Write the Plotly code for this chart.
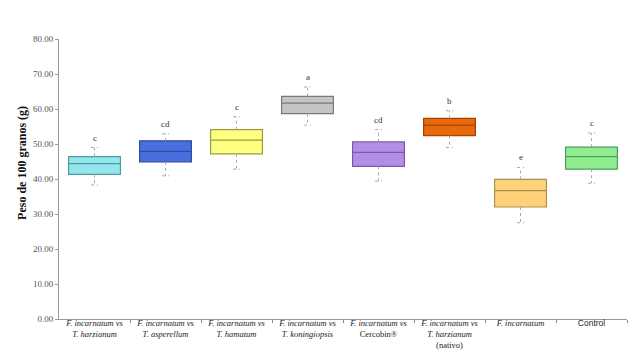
import plotly.graph_objects as go

categories = [
    "<i>F. incarnatum vs</i><br><i>T. harzianum</i>",
    "<i>F. incarnatum vs</i><br><i>T. asperellum</i>",
    "<i>F. incarnatum vs</i><br><i>T. hamatum</i>",
    "<i>F. incarnatum vs</i><br><i>T. koningiopsis</i>",
    "<i>F. incarnatum vs</i><br>Cercobin®",
    "<i>F. incarnatum vs</i><br><i>T. harzianum</i><br>(nativo)",
    "<i>F. incarnatum</i>",
    "<span style=\"font-family:'Liberation Sans'\">Control</span>",
]
q1 = [41.3, 44.9, 47.2, 58.7, 43.6, 52.4, 32.0, 42.8]
median = [44.4, 47.9, 51.1, 61.7, 47.6, 55.4, 36.7, 46.4]
q3 = [46.4, 50.9, 54.1, 63.6, 50.6, 57.3, 39.9, 49.1]
lower = [38.3, 40.9, 42.8, 55.4, 39.4, 49.0, 27.5, 38.8]
upper = [49.0, 52.9, 57.8, 66.3, 54.1, 59.5, 43.3, 53.1]
letters = ["c", "cd", "c", "a", "cd", "b", "e", "c"]
fills = ["#92E6EC", "#4A6EE0", "#FFFF80", "#C4C4C4", "#B48EE6", "#E8680C", "#FFD27A", "#90EE90"]
edges = ["#4E9CA0", "#2F4BA0", "#9A9A40", "#7A7A7A", "#7A5AA8", "#A04400", "#B0904E", "#4E9E5E"]
yticks = [0, 10, 20, 30, 40, 50, 60, 70, 80]
y_title = "Peso de 100 granos (g)"

fig = go.Figure()
xs = list(range(len(categories)))
for i in xs:
    fig.add_trace(go.Box(
        x=[i], q1=[q1[i]], median=[median[i]], q3=[q3[i]],
        lowerfence=[q1[i]], upperfence=[q3[i]],
        width=0.73, whiskerwidth=0,
        fillcolor=fills[i], line=dict(color=edges[i], width=1.2),
        boxpoints=False, hoverinfo="skip", showlegend=False,
    ))
    cap = 0.05
    fig.add_trace(go.Scatter(
        x=[i, i, None, i, i, None, i - cap, i + cap, None, i - cap, i + cap],
        y=[q3[i], upper[i], None, q1[i], lower[i], None, upper[i], upper[i], None, lower[i], lower[i]],
        mode="lines", line=dict(color="#A8A8A8", width=1, dash="dot"),
        hoverinfo="skip", showlegend=False,
    ))
    fig.add_annotation(
        x=i, y=upper[i], text=letters[i], showarrow=False,
        yanchor="bottom", yshift=3,
        font=dict(family="Liberation Serif", size=9, color="#333333"),
    )

fig.add_annotation(
    xref="paper", x=0, xanchor="center", xshift=-37,
    yref="y", y=44.6, yanchor="middle",
    text="<b>" + y_title + "</b>", textangle=-90, showarrow=False,
    font=dict(family="Liberation Serif", size=12, color="#111111"),
)

fig.update_layout(
    width=641, height=357,
    margin=dict(l=51, r=22, t=31, b=46),
    plot_bgcolor="white", paper_bgcolor="white",
    boxmode="overlay",
    font=dict(family="Liberation Serif", color="#222222"),
)
fig.update_xaxes(
    range=[-0.5, 7.5], tickmode="array", tickvals=xs, ticktext=categories,
    ticks="", showgrid=False, zeroline=False,
    showline=True, linecolor="#999999", linewidth=1,
    tickfont=dict(family="Liberation Serif", size=8.5, color="#222222"),
    tickangle=0, ticklabelstandoff=-4,
    minor=dict(tickmode="array", tickvals=[x + 0.5 for x in xs], ticks="outside",
               ticklen=3, tickcolor="#888888", showgrid=False),
)
fig.update_yaxes(
    range=[0, 80], tickmode="array", tickvals=yticks,
    ticktext=[f"{v:.2f}" for v in yticks],
    ticks="outside", ticklen=3, tickcolor="#999999",
    showgrid=False, zeroline=False,
    showline=True, linecolor="#999999", linewidth=1,
    tickfont=dict(family="Liberation Serif", size=9, color="#555555"),
)

fig.write_html("out.html")
